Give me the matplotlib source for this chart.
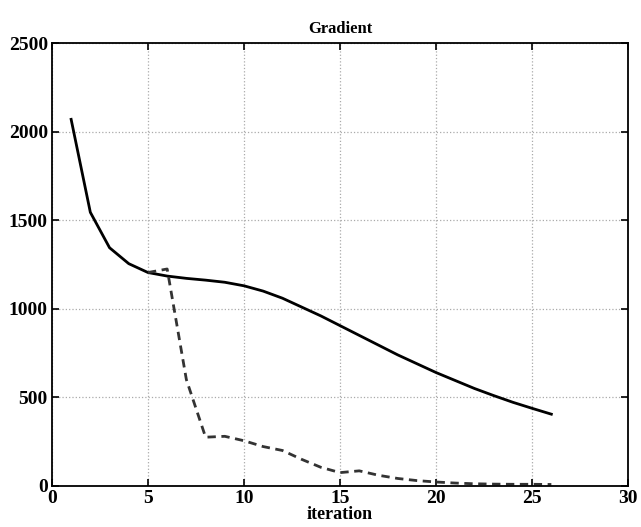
import numpy as np
import matplotlib
matplotlib.use("Agg")
import matplotlib.pyplot as plt

plt.rcParams["font.family"] = ["Liberation Serif", "DejaVu Serif"]
plt.rcParams["font.weight"] = "bold"

# solid curve
iters_a = list(range(1, 27))
grad_a = [2070, 1545, 1345, 1255, 1205, 1185, 1172, 1162, 1150, 1130, 1100,
          1060, 1010, 960, 905, 850, 795, 740, 690, 640, 595, 550, 510, 472,
          438, 405]

# dashed curve
iters_b = list(range(5, 27))
grad_b = [1205, 1225, 600, 275, 280, 255, 222, 200, 150, 105, 75, 85, 60,
          42, 30, 22, 16, 12, 10, 9, 9, 8]

fig = plt.figure(figsize=(6.41, 5.27), dpi=100)
ax = fig.add_axes([0.081, 0.078, 0.899, 0.84])

ax.plot(iters_a, grad_a, color="black", lw=2.0)
ax.plot(iters_b, grad_b, color="#333333", lw=2.0, ls=(0, (3, 2)))

ax.set_xlim(0, 30)
ax.set_ylim(0, 2500)
ax.set_xticks(np.arange(0, 31, 5))
ax.set_yticks(np.arange(0, 2501, 500))
ax.grid(True, ls=":", color="#aaaaaa", lw=0.9)
ax.tick_params(direction="in", top=True, right=True, labelsize=14, length=5,
               width=1.2, pad=3)
for s in ax.spines.values():
    s.set_linewidth(1.3)

ax.set_title("Gradient", fontsize=12, fontweight="bold", pad=7)
ax.set_xlabel("iteration", fontsize=13, fontweight="bold", labelpad=-1)

fig.savefig("out.png", dpi=100)
